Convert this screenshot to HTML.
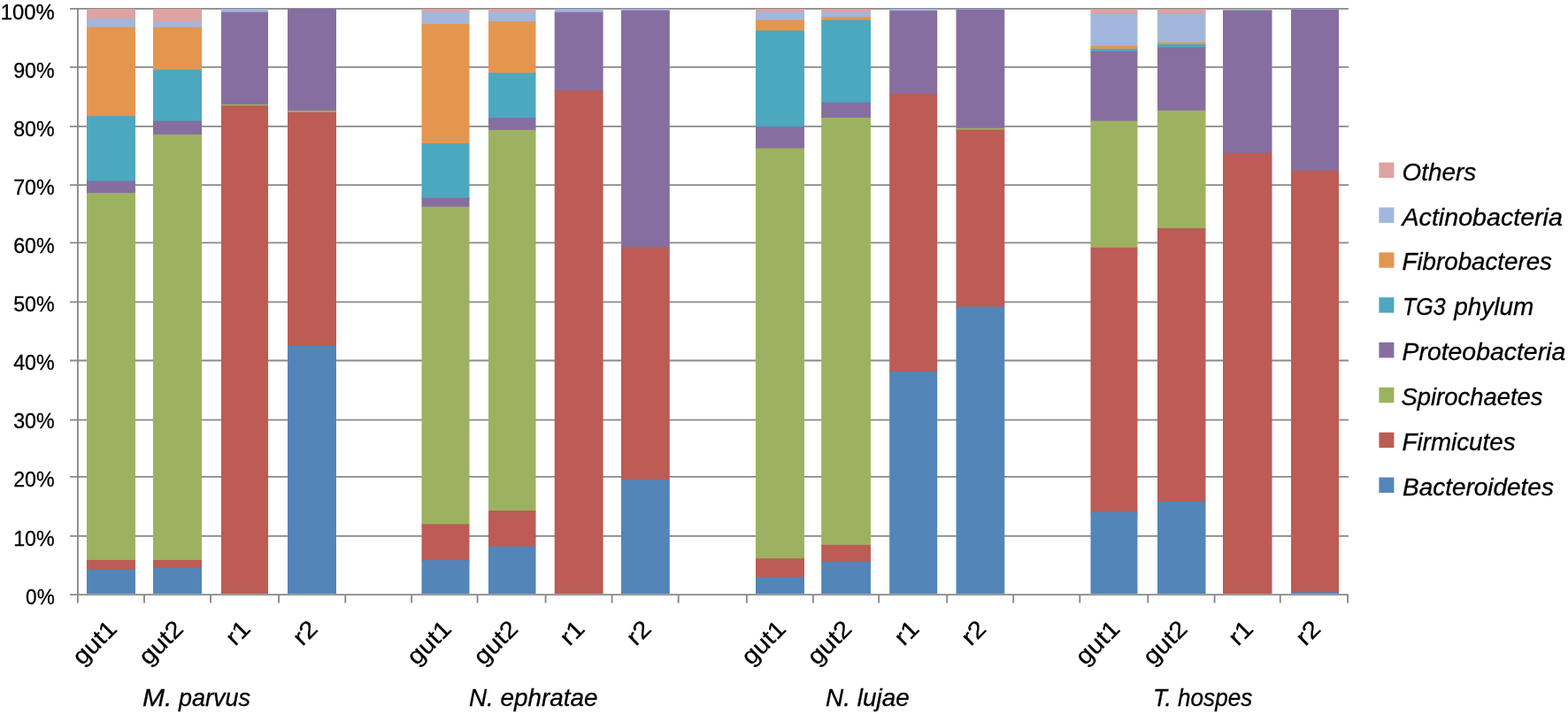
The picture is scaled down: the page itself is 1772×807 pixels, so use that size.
<!DOCTYPE html>
<html lang="en"><head><meta charset="utf-8"><title>Bacterial phyla relative abundance</title>
<style>
html,body{margin:0;padding:0;background:#fff;}
body{width:1772px;height:807px;overflow:hidden;}
svg{display:block;}
text{font-family:"Liberation Sans",sans-serif;fill:#000;}
.it{font-style:italic;}
</style></head><body>
<svg width="1772" height="807" viewBox="0 0 1772 807" role="img" aria-label="Stacked bar chart of bacterial phyla relative abundance">
<rect width="1772" height="807" fill="#fff"/>
<g stroke="#898989" stroke-width="1.8" fill="none">
<line x1="79" y1="9.90" x2="1524" y2="9.90"/>
<line x1="79" y1="75.90" x2="1524" y2="75.90"/>
<line x1="79" y1="142.90" x2="1524" y2="142.90"/>
<line x1="79" y1="209.05" x2="1524" y2="209.05"/>
<line x1="79" y1="274.30" x2="1524" y2="274.30"/>
<line x1="79" y1="341.40" x2="1524" y2="341.40"/>
<line x1="79" y1="407.50" x2="1524" y2="407.50"/>
<line x1="79" y1="474.70" x2="1524" y2="474.70"/>
<line x1="79" y1="538.80" x2="1524" y2="538.80"/>
<line x1="79" y1="605.80" x2="1524" y2="605.80"/>
</g>
<g shape-rendering="auto">
<rect x="98.00" y="10.00" width="55.00" height="11.80" fill="#DDA3A2"/>
<rect x="98.00" y="20.80" width="55.00" height="10.90" fill="#A3B6DB"/>
<rect x="98.00" y="30.70" width="55.00" height="101.50" fill="#E5964E"/>
<rect x="98.00" y="131.20" width="55.00" height="74.40" fill="#4CA8BF"/>
<rect x="98.00" y="204.60" width="55.00" height="14.40" fill="#876EA0"/>
<rect x="98.00" y="218.00" width="55.00" height="415.90" fill="#9DB260"/>
<rect x="98.00" y="632.90" width="55.00" height="11.80" fill="#BC5C54"/>
<rect x="98.00" y="643.70" width="55.00" height="27.30" fill="#5385B9"/>
<rect x="173.00" y="10.00" width="55.00" height="15.40" fill="#DDA3A2"/>
<rect x="173.00" y="24.40" width="55.00" height="7.30" fill="#A3B6DB"/>
<rect x="173.00" y="30.70" width="55.00" height="49.00" fill="#E5964E"/>
<rect x="173.00" y="78.70" width="55.00" height="59.00" fill="#4CA8BF"/>
<rect x="173.00" y="136.70" width="55.00" height="16.30" fill="#876EA0"/>
<rect x="173.00" y="152.00" width="55.00" height="481.90" fill="#9DB260"/>
<rect x="173.00" y="632.90" width="55.00" height="10.20" fill="#BC5C54"/>
<rect x="173.00" y="642.10" width="55.00" height="28.90" fill="#5385B9"/>
<rect x="250.00" y="10.00" width="53.00" height="4.60" fill="#A3B6DB"/>
<rect x="250.00" y="13.60" width="53.00" height="105.30" fill="#876EA0"/>
<rect x="250.00" y="117.90" width="53.00" height="2.40" fill="#9DB260"/>
<rect x="250.00" y="119.30" width="53.00" height="551.70" fill="#BC5C54"/>
<rect x="325.00" y="10.00" width="55.00" height="116.00" fill="#876EA0"/>
<rect x="325.00" y="125.00" width="55.00" height="2.80" fill="#9DB260"/>
<rect x="325.00" y="126.80" width="55.00" height="265.30" fill="#BC5C54"/>
<rect x="325.00" y="391.10" width="55.00" height="279.90" fill="#5385B9"/>
<rect x="476.50" y="10.00" width="54.00" height="4.60" fill="#DDA3A2"/>
<rect x="476.50" y="13.60" width="54.00" height="14.50" fill="#A3B6DB"/>
<rect x="476.50" y="27.10" width="54.00" height="136.00" fill="#E5964E"/>
<rect x="476.50" y="162.10" width="54.00" height="62.50" fill="#4CA8BF"/>
<rect x="476.50" y="223.60" width="54.00" height="11.00" fill="#876EA0"/>
<rect x="476.50" y="233.60" width="54.00" height="359.80" fill="#9DB260"/>
<rect x="476.50" y="592.40" width="54.00" height="41.70" fill="#BC5C54"/>
<rect x="476.50" y="633.10" width="54.00" height="37.90" fill="#5385B9"/>
<rect x="552.00" y="10.00" width="53.50" height="4.60" fill="#DDA3A2"/>
<rect x="552.00" y="13.60" width="53.50" height="11.80" fill="#A3B6DB"/>
<rect x="552.00" y="24.40" width="53.50" height="59.10" fill="#E5964E"/>
<rect x="552.00" y="82.50" width="53.50" height="51.70" fill="#4CA8BF"/>
<rect x="552.00" y="133.20" width="53.50" height="14.60" fill="#876EA0"/>
<rect x="552.00" y="146.80" width="53.50" height="431.20" fill="#9DB260"/>
<rect x="552.00" y="577.00" width="53.50" height="41.70" fill="#BC5C54"/>
<rect x="552.00" y="617.70" width="53.50" height="53.30" fill="#5385B9"/>
<rect x="626.70" y="10.00" width="54.90" height="4.60" fill="#A3B6DB"/>
<rect x="626.70" y="13.60" width="54.90" height="89.80" fill="#876EA0"/>
<rect x="626.70" y="102.40" width="54.90" height="568.60" fill="#BC5C54"/>
<rect x="702.00" y="10.00" width="54.80" height="2.80" fill="#A3B6DB"/>
<rect x="702.00" y="11.80" width="54.80" height="268.90" fill="#876EA0"/>
<rect x="702.00" y="279.70" width="54.80" height="263.60" fill="#BC5C54"/>
<rect x="702.00" y="542.30" width="54.80" height="128.70" fill="#5385B9"/>
<rect x="854.00" y="10.00" width="55.00" height="4.60" fill="#DDA3A2"/>
<rect x="854.00" y="13.60" width="55.00" height="10.00" fill="#A3B6DB"/>
<rect x="854.00" y="22.60" width="55.00" height="12.80" fill="#E5964E"/>
<rect x="854.00" y="34.40" width="55.00" height="109.60" fill="#4CA8BF"/>
<rect x="854.00" y="143.00" width="55.00" height="25.50" fill="#876EA0"/>
<rect x="854.00" y="167.50" width="55.00" height="464.60" fill="#9DB260"/>
<rect x="854.00" y="631.10" width="55.00" height="22.00" fill="#BC5C54"/>
<rect x="854.00" y="652.10" width="55.00" height="18.90" fill="#5385B9"/>
<rect x="928.20" y="10.00" width="55.80" height="4.60" fill="#DDA3A2"/>
<rect x="928.20" y="13.60" width="55.80" height="6.40" fill="#A3B6DB"/>
<rect x="928.20" y="19.00" width="55.80" height="4.60" fill="#E5964E"/>
<rect x="928.20" y="22.60" width="55.80" height="94.20" fill="#4CA8BF"/>
<rect x="928.20" y="115.80" width="55.80" height="18.20" fill="#876EA0"/>
<rect x="928.20" y="133.00" width="55.80" height="483.80" fill="#9DB260"/>
<rect x="928.20" y="615.80" width="55.80" height="20.00" fill="#BC5C54"/>
<rect x="928.20" y="634.80" width="55.80" height="36.20" fill="#5385B9"/>
<rect x="1005.20" y="10.00" width="54.00" height="3.10" fill="#A3B6DB"/>
<rect x="1005.20" y="12.10" width="54.00" height="94.80" fill="#876EA0"/>
<rect x="1005.20" y="105.90" width="54.00" height="315.00" fill="#BC5C54"/>
<rect x="1005.20" y="419.90" width="54.00" height="251.10" fill="#5385B9"/>
<rect x="1080.50" y="10.00" width="54.80" height="1.60" fill="#A3B6DB"/>
<rect x="1080.50" y="10.60" width="54.80" height="135.10" fill="#876EA0"/>
<rect x="1080.50" y="144.70" width="54.80" height="2.80" fill="#9DB260"/>
<rect x="1080.50" y="146.50" width="54.80" height="201.20" fill="#BC5C54"/>
<rect x="1080.50" y="346.70" width="54.80" height="324.30" fill="#5385B9"/>
<rect x="1232.50" y="10.00" width="53.00" height="6.40" fill="#DDA3A2"/>
<rect x="1232.50" y="15.40" width="53.00" height="37.50" fill="#A3B6DB"/>
<rect x="1232.50" y="51.90" width="53.00" height="4.30" fill="#E5964E"/>
<rect x="1232.50" y="55.20" width="53.00" height="3.70" fill="#4CA8BF"/>
<rect x="1232.50" y="57.90" width="53.00" height="79.70" fill="#876EA0"/>
<rect x="1232.50" y="136.60" width="53.00" height="144.10" fill="#9DB260"/>
<rect x="1232.50" y="279.70" width="53.00" height="299.80" fill="#BC5C54"/>
<rect x="1232.50" y="578.50" width="53.00" height="92.50" fill="#5385B9"/>
<rect x="1308.00" y="10.00" width="54.50" height="6.40" fill="#DDA3A2"/>
<rect x="1308.00" y="15.40" width="54.50" height="33.50" fill="#A3B6DB"/>
<rect x="1308.00" y="47.90" width="54.50" height="3.20" fill="#E5964E"/>
<rect x="1308.00" y="50.10" width="54.50" height="4.40" fill="#4CA8BF"/>
<rect x="1308.00" y="53.50" width="54.50" height="72.30" fill="#876EA0"/>
<rect x="1308.00" y="124.80" width="54.50" height="134.10" fill="#9DB260"/>
<rect x="1308.00" y="257.90" width="54.50" height="310.00" fill="#BC5C54"/>
<rect x="1308.00" y="566.90" width="54.50" height="104.10" fill="#5385B9"/>
<rect x="1382.00" y="10.00" width="55.50" height="1.90" fill="#DDA3A2"/>
<rect x="1382.00" y="10.90" width="55.50" height="1.90" fill="#A3B6DB"/>
<rect x="1382.00" y="11.80" width="55.50" height="162.10" fill="#876EA0"/>
<rect x="1382.00" y="172.90" width="55.50" height="498.10" fill="#BC5C54"/>
<rect x="1459.00" y="10.00" width="54.00" height="1.60" fill="#A3B6DB"/>
<rect x="1459.00" y="10.60" width="54.00" height="183.30" fill="#876EA0"/>
<rect x="1459.00" y="192.90" width="54.00" height="477.40" fill="#BC5C54"/>
<rect x="1459.00" y="669.30" width="54.00" height="1.70" fill="#5385B9"/>
</g>
<g stroke="#898989" stroke-width="1.9" fill="none">
<line x1="87.9" y1="9" x2="87.9" y2="681.5"/>
<line x1="79" y1="672.1" x2="1524" y2="672.1"/>
<line x1="163.00" y1="672" x2="163.00" y2="681.5"/>
<line x1="238.00" y1="672" x2="238.00" y2="681.5"/>
<line x1="315.00" y1="672" x2="315.00" y2="681.5"/>
<line x1="390.30" y1="672" x2="390.30" y2="681.5"/>
<line x1="465.10" y1="672" x2="465.10" y2="681.5"/>
<line x1="539.60" y1="672" x2="539.60" y2="681.5"/>
<line x1="616.60" y1="672" x2="616.60" y2="681.5"/>
<line x1="691.60" y1="672" x2="691.60" y2="681.5"/>
<line x1="766.70" y1="672" x2="766.70" y2="681.5"/>
<line x1="843.90" y1="672" x2="843.90" y2="681.5"/>
<line x1="918.90" y1="672" x2="918.90" y2="681.5"/>
<line x1="993.10" y1="672" x2="993.10" y2="681.5"/>
<line x1="1070.20" y1="672" x2="1070.20" y2="681.5"/>
<line x1="1145.20" y1="672" x2="1145.20" y2="681.5"/>
<line x1="1220.30" y1="672" x2="1220.30" y2="681.5"/>
<line x1="1297.30" y1="672" x2="1297.30" y2="681.5"/>
<line x1="1372.60" y1="672" x2="1372.60" y2="681.5"/>
<line x1="1446.80" y1="672" x2="1446.80" y2="681.5"/>
<line x1="1523.00" y1="672" x2="1523.00" y2="681.5"/>
</g>
<text transform="translate(61.70 21.50)" font-size="23.5" text-anchor="end" textLength="61.00" lengthAdjust="spacingAndGlyphs" stroke="#000" stroke-width="0.3">100%</text>
<text transform="translate(61.70 87.62)" font-size="23.5" text-anchor="end" textLength="46.50" lengthAdjust="spacingAndGlyphs" stroke="#000" stroke-width="0.3">90%</text>
<text transform="translate(61.70 153.74)" font-size="23.5" text-anchor="end" textLength="46.50" lengthAdjust="spacingAndGlyphs" stroke="#000" stroke-width="0.3">80%</text>
<text transform="translate(61.70 219.86)" font-size="23.5" text-anchor="end" textLength="46.50" lengthAdjust="spacingAndGlyphs" stroke="#000" stroke-width="0.3">70%</text>
<text transform="translate(61.70 285.98)" font-size="23.5" text-anchor="end" textLength="46.50" lengthAdjust="spacingAndGlyphs" stroke="#000" stroke-width="0.3">60%</text>
<text transform="translate(61.70 352.10)" font-size="23.5" text-anchor="end" textLength="46.50" lengthAdjust="spacingAndGlyphs" stroke="#000" stroke-width="0.3">50%</text>
<text transform="translate(61.70 418.22)" font-size="23.5" text-anchor="end" textLength="46.50" lengthAdjust="spacingAndGlyphs" stroke="#000" stroke-width="0.3">40%</text>
<text transform="translate(61.70 484.34)" font-size="23.5" text-anchor="end" textLength="46.50" lengthAdjust="spacingAndGlyphs" stroke="#000" stroke-width="0.3">30%</text>
<text transform="translate(61.70 550.46)" font-size="23.5" text-anchor="end" textLength="46.50" lengthAdjust="spacingAndGlyphs" stroke="#000" stroke-width="0.3">20%</text>
<text transform="translate(61.70 616.58)" font-size="23.5" text-anchor="end" textLength="46.50" lengthAdjust="spacingAndGlyphs" stroke="#000" stroke-width="0.3">10%</text>
<text transform="translate(61.70 682.70)" font-size="23.5" text-anchor="end" textLength="32.60" lengthAdjust="spacingAndGlyphs" stroke="#000" stroke-width="0.3">0%</text>
<text transform="translate(133.60 712.20) rotate(-45)" font-size="27" text-anchor="end" textLength="57.80" lengthAdjust="spacingAndGlyphs" stroke="#000" stroke-width="0.3">gut1</text>
<text transform="translate(208.60 712.20) rotate(-45)" font-size="27" text-anchor="end" textLength="57.80" lengthAdjust="spacingAndGlyphs" stroke="#000" stroke-width="0.3">gut2</text>
<text transform="translate(284.60 712.20) rotate(-45)" font-size="27" text-anchor="end" textLength="26.60" lengthAdjust="spacingAndGlyphs" stroke="#000" stroke-width="0.3">r1</text>
<text transform="translate(360.60 712.20) rotate(-45)" font-size="27" text-anchor="end" textLength="26.60" lengthAdjust="spacingAndGlyphs" stroke="#000" stroke-width="0.3">r2</text>
<text transform="translate(511.60 712.20) rotate(-45)" font-size="27" text-anchor="end" textLength="57.80" lengthAdjust="spacingAndGlyphs" stroke="#000" stroke-width="0.3">gut1</text>
<text transform="translate(586.85 712.20) rotate(-45)" font-size="27" text-anchor="end" textLength="57.80" lengthAdjust="spacingAndGlyphs" stroke="#000" stroke-width="0.3">gut2</text>
<text transform="translate(662.25 712.20) rotate(-45)" font-size="27" text-anchor="end" textLength="26.60" lengthAdjust="spacingAndGlyphs" stroke="#000" stroke-width="0.3">r1</text>
<text transform="translate(737.50 712.20) rotate(-45)" font-size="27" text-anchor="end" textLength="26.60" lengthAdjust="spacingAndGlyphs" stroke="#000" stroke-width="0.3">r2</text>
<text transform="translate(889.60 712.20) rotate(-45)" font-size="27" text-anchor="end" textLength="57.80" lengthAdjust="spacingAndGlyphs" stroke="#000" stroke-width="0.3">gut1</text>
<text transform="translate(964.20 712.20) rotate(-45)" font-size="27" text-anchor="end" textLength="57.80" lengthAdjust="spacingAndGlyphs" stroke="#000" stroke-width="0.3">gut2</text>
<text transform="translate(1040.30 712.20) rotate(-45)" font-size="27" text-anchor="end" textLength="26.60" lengthAdjust="spacingAndGlyphs" stroke="#000" stroke-width="0.3">r1</text>
<text transform="translate(1116.00 712.20) rotate(-45)" font-size="27" text-anchor="end" textLength="26.60" lengthAdjust="spacingAndGlyphs" stroke="#000" stroke-width="0.3">r2</text>
<text transform="translate(1267.10 712.20) rotate(-45)" font-size="27" text-anchor="end" textLength="57.80" lengthAdjust="spacingAndGlyphs" stroke="#000" stroke-width="0.3">gut1</text>
<text transform="translate(1343.35 712.20) rotate(-45)" font-size="27" text-anchor="end" textLength="57.80" lengthAdjust="spacingAndGlyphs" stroke="#000" stroke-width="0.3">gut2</text>
<text transform="translate(1417.85 712.20) rotate(-45)" font-size="27" text-anchor="end" textLength="26.60" lengthAdjust="spacingAndGlyphs" stroke="#000" stroke-width="0.3">r1</text>
<text transform="translate(1494.10 712.20) rotate(-45)" font-size="27" text-anchor="end" textLength="26.60" lengthAdjust="spacingAndGlyphs" stroke="#000" stroke-width="0.3">r2</text>
<text transform="translate(0 797.70)" xml:space="preserve" font-size="27" class="it" stroke="#000" stroke-width="0.3"><tspan x="161.00" textLength="33.30" lengthAdjust="spacingAndGlyphs">M.</tspan> <tspan x="202.10" textLength="81.00" lengthAdjust="spacingAndGlyphs">parvus</tspan></text>
<text transform="translate(530.00 797.70)" font-size="27" textLength="145.60" lengthAdjust="spacingAndGlyphs" class="it" stroke="#000" stroke-width="0.3">N. ephratae</text>
<text transform="translate(933.00 797.70)" font-size="27" textLength="94.70" lengthAdjust="spacingAndGlyphs" class="it" stroke="#000" stroke-width="0.3">N. lujae</text>
<text transform="translate(1303.00 797.70)" font-size="27" textLength="112.30" lengthAdjust="spacingAndGlyphs" class="it" stroke="#000" stroke-width="0.3">T. hospes</text>
<rect x="1558.40" y="183.60" width="17.00" height="17.40" fill="#DDA3A2"/>
<text transform="translate(1584.50 203.70)" font-size="27" textLength="83.80" lengthAdjust="spacingAndGlyphs" class="it" stroke="#000" stroke-width="0.3">Others</text>
<rect x="1558.40" y="234.45" width="17.00" height="17.40" fill="#A3B6DB"/>
<text transform="translate(1584.50 254.55)" font-size="27" textLength="181.40" lengthAdjust="spacingAndGlyphs" class="it" stroke="#000" stroke-width="0.3">Actinobacteria</text>
<rect x="1558.40" y="285.30" width="17.00" height="17.40" fill="#E5964E"/>
<text transform="translate(1584.50 305.40)" font-size="27" textLength="169.40" lengthAdjust="spacingAndGlyphs" class="it" stroke="#000" stroke-width="0.3">Fibrobacteres</text>
<rect x="1558.40" y="336.15" width="17.00" height="17.40" fill="#4CA8BF"/>
<text transform="translate(0 356.25)" xml:space="preserve" font-size="27" class="it" stroke="#000" stroke-width="0.3"><tspan x="1585.00" textLength="48.50" lengthAdjust="spacingAndGlyphs">TG3</tspan> <tspan x="1643.20" textLength="90.00" lengthAdjust="spacingAndGlyphs">phylum</tspan></text>
<rect x="1558.40" y="387.00" width="17.00" height="17.40" fill="#876EA0"/>
<text transform="translate(1584.50 407.10)" font-size="27" textLength="184.70" lengthAdjust="spacingAndGlyphs" class="it" stroke="#000" stroke-width="0.3">Proteobacteria</text>
<rect x="1558.40" y="437.85" width="17.00" height="17.40" fill="#9DB260"/>
<text transform="translate(1583.50 457.95)" font-size="27" textLength="160.00" lengthAdjust="spacingAndGlyphs" class="it" stroke="#000" stroke-width="0.3">Spirochaetes</text>
<rect x="1558.40" y="488.70" width="17.00" height="17.40" fill="#BC5C54"/>
<text transform="translate(1584.50 508.80)" font-size="27" textLength="128.10" lengthAdjust="spacingAndGlyphs" class="it" stroke="#000" stroke-width="0.3">Firmicutes</text>
<rect x="1558.40" y="539.55" width="17.00" height="17.40" fill="#5385B9"/>
<text transform="translate(1585.00 559.65)" font-size="27" textLength="170.90" lengthAdjust="spacingAndGlyphs" class="it" stroke="#000" stroke-width="0.3">Bacteroidetes</text>
</svg>
</body></html>
